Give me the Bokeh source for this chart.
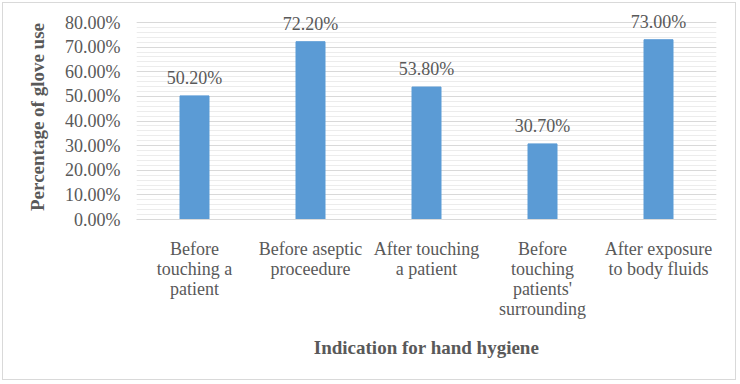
from bokeh.plotting import figure
from bokeh.models import (ColumnDataSource, FixedTicker, CustomJSTickFormatter,
                          LabelSet, Range1d, FactorRange, CategoricalAxis)
from bokeh.embed import file_html
from bokeh.resources import INLINE

# ---- data ----
categories = ["Before touching a patient", "Before aseptic proceedure",
              "After touching a patient", "Before touching patients' surrounding",
              "After exposure to body fluids"]
tick_labels = ["Before\ntouching a\npatient", "Before aseptic\nproceedure",
               "After touching\na patient", "Before\ntouching\npatients'\nsurrounding",
               "After exposure\nto body fluids"]
values = [50.2, 72.2, 53.8, 30.7, 73.0]
value_labels = ["50.20%", "72.20%", "53.80%", "30.70%", "73.00%"]
y_ticks = [0, 10, 20, 30, 40, 50, 60, 70, 80]
y_minor_ticks = list(range(0, 81, 2))

FONT = "Liberation Serif"
TXT = "#595959"

src = ColumnDataSource(dict(cat=categories, val=values, lab=value_labels))

p = figure(width=734, height=378, x_range=FactorRange(*categories, range_padding=0),
           y_range=Range1d(0, 83.25), output_backend="svg", toolbar_location=None,
           min_border_left=133, min_border_right=21, min_border_top=11,
           min_border_bottom=162)
p.styles = {"border": "1px solid #d9d9d9", "margin": "2px"}
p.outline_line_color = None
p.background_fill_color = "white"
p.border_fill_color = "white"

p.vbar(x="cat", top="val", width=0.25, source=src, color="#5B9BD5")

labels = LabelSet(x="cat", y="val", text="lab", source=src, text_align="center",
                  text_baseline="alphabetic", y_offset=12,
                  text_font=FONT, text_font_size="18px", text_color=TXT)
p.add_layout(labels)

# y axis
p.yaxis.ticker = FixedTicker(ticks=y_ticks, minor_ticks=y_minor_ticks)
p.yaxis.formatter = CustomJSTickFormatter(code="return tick.toFixed(2) + '%';")
p.yaxis.axis_line_color = None
p.yaxis.major_tick_line_color = None
p.yaxis.minor_tick_line_color = None
p.yaxis.major_tick_out = 0
p.yaxis.major_tick_in = 0
p.yaxis.minor_tick_out = 0
p.yaxis.minor_tick_in = 0
p.yaxis.major_label_standoff = 16
p.yaxis.major_label_text_font = FONT
p.yaxis.major_label_text_font_size = "18px"
p.yaxis.major_label_text_color = TXT
p.yaxis.axis_label = "Percentage of glove use"
p.yaxis.axis_label_text_font = FONT
p.yaxis.axis_label_text_font_style = "bold"
p.yaxis.axis_label_text_font_size = "19px"
p.yaxis.axis_label_text_color = TXT
p.yaxis.axis_label_standoff = 14

# x axes: one axis per line of the wrapped category labels
lines = [t.split("\n") for t in tick_labels]
nlines = max(len(l) for l in lines)
axes = [p.xaxis[0]]
for k in range(1, nlines):
    ax = CategoricalAxis()
    p.add_layout(ax, "below")
    axes.append(ax)

for k, ax in enumerate(axes):
    line_k = [(l[k] if k < len(l) else " ") for l in lines]
    ax.formatter = CustomJSTickFormatter(
        args=dict(f=categories, l=line_k),
        code="const i = f.indexOf(tick); return i >= 0 ? l[i] : ' ';")
    ax.axis_line_color = "#d9d9d9" if k == 0 else None
    ax.major_tick_line_color = None
    ax.minor_tick_line_color = None
    ax.major_tick_out = 0
    ax.major_tick_in = 0
    ax.major_label_standoff = 19 if k == 0 else -3
    ax.major_label_text_font = FONT
    ax.major_label_text_font_size = "18px"
    ax.major_label_text_color = TXT

last = axes[-1]
last.axis_label = "Indication for hand hygiene"
last.axis_label_text_font = FONT
last.axis_label_text_font_style = "bold"
last.axis_label_text_font_size = "19px"
last.axis_label_text_color = TXT
last.axis_label_standoff = 15

# grids
p.xgrid.grid_line_color = None
p.ygrid.grid_line_color = "#d9d9d9"
p.ygrid.minor_grid_line_color = "#ececec"

open("out.html", "w").write(file_html(p, INLINE))
